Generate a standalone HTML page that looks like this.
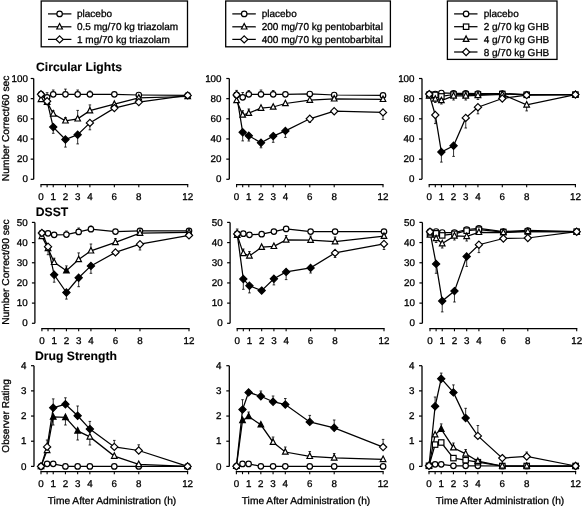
<!DOCTYPE html>
<html><head><meta charset="utf-8"><style>
html,body{margin:0;padding:0;background:#fff;}
svg{display:block;filter:grayscale(1);}
</style></head><body>
<svg width="583" height="506" viewBox="0 0 583 506" font-family='"Liberation Sans", sans-serif' font-size="10" fill="#000" stroke="#000" stroke-width="1.2" text-rendering="geometricPrecision">
<rect width="583" height="506" fill="#fff" stroke="none"/>
<g>
<path d="M33.7 78.5V179.3" stroke-width="1.3"/>
<path d="M30.7 179.3H33.7" stroke-width="1.2"/>
<text stroke-width="0.3" x="27.9" y="182.45" text-anchor="end" font-size="9.8">0</text>
<path d="M30.7 159.14H33.7" stroke-width="1.2"/>
<text stroke-width="0.3" x="27.9" y="162.29" text-anchor="end" font-size="9.8">20</text>
<path d="M30.7 138.98H33.7" stroke-width="1.2"/>
<text stroke-width="0.3" x="27.9" y="142.13" text-anchor="end" font-size="9.8">40</text>
<path d="M30.7 118.82H33.7" stroke-width="1.2"/>
<text stroke-width="0.3" x="27.9" y="121.97" text-anchor="end" font-size="9.8">60</text>
<path d="M30.7 98.66H33.7" stroke-width="1.2"/>
<text stroke-width="0.3" x="27.9" y="101.81" text-anchor="end" font-size="9.8">80</text>
<path d="M30.7 78.5H33.7" stroke-width="1.2"/>
<text stroke-width="0.3" x="27.9" y="81.65" text-anchor="end" font-size="9.8">100</text>
<path d="M40.4 184.7H188.3" stroke-width="1.3"/>
<path d="M41 184.7V187.3" stroke-width="1.1"/>
<text stroke-width="0.3" x="41" y="200.3" text-anchor="middle" font-size="9.8">0</text>
<path d="M47.11 184.7V187.3" stroke-width="1.1"/>
<path d="M53.23 184.7V187.3" stroke-width="1.1"/>
<text stroke-width="0.3" x="53.23" y="200.3" text-anchor="middle" font-size="9.8">1</text>
<path d="M65.45 184.7V187.3" stroke-width="1.1"/>
<text stroke-width="0.3" x="65.45" y="200.3" text-anchor="middle" font-size="9.8">2</text>
<path d="M77.67 184.7V187.3" stroke-width="1.1"/>
<text stroke-width="0.3" x="77.67" y="200.3" text-anchor="middle" font-size="9.8">3</text>
<path d="M89.9 184.7V187.3" stroke-width="1.1"/>
<text stroke-width="0.3" x="89.9" y="200.3" text-anchor="middle" font-size="9.8">4</text>
<path d="M114.35 184.7V187.3" stroke-width="1.1"/>
<text stroke-width="0.3" x="114.35" y="200.3" text-anchor="middle" font-size="9.8">6</text>
<path d="M138.8 184.7V187.3" stroke-width="1.1"/>
<text stroke-width="0.3" x="138.8" y="200.3" text-anchor="middle" font-size="9.8">8</text>
<path d="M187.7 184.7V187.3" stroke-width="1.1"/>
<text stroke-width="0.3" x="187.7" y="200.3" text-anchor="middle" font-size="9.8">12</text>
<path d="M41 94.3L47.11 97.3L53.23 94.3L65.45 94.3L77.67 94.3L89.9 94.3L114.35 94.3L138.8 95L187.7 95.4" fill="none" stroke-width="1.25"/>
<path d="M41 99.4L47.11 102.1L53.23 113.9L65.45 120.8L77.67 118.8L89.9 110.7L114.35 104.2L138.8 97.8L187.7 96.5" fill="none" stroke-width="1.25"/>
<path d="M41 94.3L47.11 101.2L53.23 127.1L65.45 139.5L77.67 134.7L89.9 122.9L114.35 108.1L138.8 102.1L187.7 95.4" fill="none" stroke-width="1.25"/>
<path d="M47.11 97.3V92.7M45.81 92.7H48.41" stroke-width="0.8"/>
<path d="M53.23 94.3V90M51.93 90H54.52" stroke-width="0.8"/>
<path d="M65.45 94.3V89.1M64.15 89.1H66.75" stroke-width="0.8"/>
<path d="M77.67 94.3V90M76.38 90H78.97" stroke-width="0.8"/>
<path d="M89.9 94.3V91M88.6 91H91.2" stroke-width="0.8"/>
<circle cx="41" cy="94.3" r="2.75" fill="#fff"/>
<circle cx="47.11" cy="97.3" r="2.75" fill="#fff"/>
<circle cx="53.23" cy="94.3" r="2.75" fill="#fff"/>
<circle cx="65.45" cy="94.3" r="2.75" fill="#fff"/>
<circle cx="77.67" cy="94.3" r="2.75" fill="#fff"/>
<circle cx="89.9" cy="94.3" r="2.75" fill="#fff"/>
<circle cx="114.35" cy="94.3" r="2.75" fill="#fff"/>
<circle cx="138.8" cy="95" r="2.75" fill="#fff"/>
<circle cx="187.7" cy="95.4" r="2.75" fill="#fff"/>
<path d="M53.23 113.9V110.7M51.93 110.7H54.52" stroke-width="0.8"/>
<path d="M65.45 120.8V117.5M64.15 117.5H66.75" stroke-width="0.8"/>
<path d="M77.67 118.8V110.4M76.38 110.4H78.97" stroke-width="0.8"/>
<path d="M89.9 110.7V104.9M88.6 104.9H91.2" stroke-width="0.8"/>
<path d="M41 96.1L43.8 101.6L38.2 101.6Z" fill="#fff"/>
<path d="M47.11 98.8L49.91 104.3L44.31 104.3Z" fill="#fff"/>
<path d="M53.23 110.6L56.02 116.1L50.43 116.1Z" fill="#fff"/>
<path d="M65.45 117.5L68.25 123L62.65 123Z" fill="#fff"/>
<path d="M77.67 115.5L80.47 121L74.88 121Z" fill="#fff"/>
<path d="M89.9 107.4L92.7 112.9L87.1 112.9Z" fill="#fff"/>
<path d="M114.35 100.9L117.15 106.4L111.55 106.4Z" fill="#fff"/>
<path d="M138.8 94.5L141.6 100L136 100Z" fill="#fff"/>
<path d="M187.7 93.2L190.5 98.7L184.9 98.7Z" fill="#fff"/>
<path d="M53.23 127.1V133.3M51.93 133.3H54.52" stroke-width="0.8"/>
<path d="M65.45 139.5V147.1M64.15 147.1H66.75" stroke-width="0.8"/>
<path d="M77.67 134.7V143.9M76.38 143.9H78.97" stroke-width="0.8"/>
<path d="M89.9 122.9V129.8M88.6 129.8H91.2" stroke-width="0.8"/>
<path d="M41 90.7L44.6 94.3L41 97.9L37.4 94.3Z" fill="#fff"/>
<path d="M47.11 97.6L50.71 101.2L47.11 104.8L43.51 101.2Z" fill="#fff"/>
<path d="M53.23 123.5L56.83 127.1L53.23 130.7L49.62 127.1Z" fill="#000"/>
<path d="M65.45 135.9L69.05 139.5L65.45 143.1L61.85 139.5Z" fill="#000"/>
<path d="M77.67 131.1L81.27 134.7L77.67 138.3L74.08 134.7Z" fill="#000"/>
<path d="M89.9 119.3L93.5 122.9L89.9 126.5L86.3 122.9Z" fill="#fff"/>
<path d="M114.35 104.5L117.95 108.1L114.35 111.7L110.75 108.1Z" fill="#fff"/>
<path d="M138.8 98.5L142.4 102.1L138.8 105.7L135.2 102.1Z" fill="#fff"/>
<path d="M187.7 91.8L191.3 95.4L187.7 99L184.1 95.4Z" fill="#fff"/>
<path d="M229.3 78.5V179.3" stroke-width="1.3"/>
<path d="M226.3 179.3H229.3" stroke-width="1.2"/>
<text stroke-width="0.3" x="221.5" y="182.45" text-anchor="end" font-size="9.8">0</text>
<path d="M226.3 159.14H229.3" stroke-width="1.2"/>
<text stroke-width="0.3" x="221.5" y="162.29" text-anchor="end" font-size="9.8">20</text>
<path d="M226.3 138.98H229.3" stroke-width="1.2"/>
<text stroke-width="0.3" x="221.5" y="142.13" text-anchor="end" font-size="9.8">40</text>
<path d="M226.3 118.82H229.3" stroke-width="1.2"/>
<text stroke-width="0.3" x="221.5" y="121.97" text-anchor="end" font-size="9.8">60</text>
<path d="M226.3 98.66H229.3" stroke-width="1.2"/>
<text stroke-width="0.3" x="221.5" y="101.81" text-anchor="end" font-size="9.8">80</text>
<path d="M226.3 78.5H229.3" stroke-width="1.2"/>
<text stroke-width="0.3" x="221.5" y="81.65" text-anchor="end" font-size="9.8">100</text>
<path d="M236 184.7H383.6" stroke-width="1.3"/>
<path d="M236.6 184.7V187.3" stroke-width="1.1"/>
<text stroke-width="0.3" x="236.6" y="200.3" text-anchor="middle" font-size="9.8">0</text>
<path d="M242.7 184.7V187.3" stroke-width="1.1"/>
<path d="M248.8 184.7V187.3" stroke-width="1.1"/>
<text stroke-width="0.3" x="248.8" y="200.3" text-anchor="middle" font-size="9.8">1</text>
<path d="M261 184.7V187.3" stroke-width="1.1"/>
<text stroke-width="0.3" x="261" y="200.3" text-anchor="middle" font-size="9.8">2</text>
<path d="M273.2 184.7V187.3" stroke-width="1.1"/>
<text stroke-width="0.3" x="273.2" y="200.3" text-anchor="middle" font-size="9.8">3</text>
<path d="M285.4 184.7V187.3" stroke-width="1.1"/>
<text stroke-width="0.3" x="285.4" y="200.3" text-anchor="middle" font-size="9.8">4</text>
<path d="M309.8 184.7V187.3" stroke-width="1.1"/>
<text stroke-width="0.3" x="309.8" y="200.3" text-anchor="middle" font-size="9.8">6</text>
<path d="M334.2 184.7V187.3" stroke-width="1.1"/>
<text stroke-width="0.3" x="334.2" y="200.3" text-anchor="middle" font-size="9.8">8</text>
<path d="M383 184.7V187.3" stroke-width="1.1"/>
<text stroke-width="0.3" x="383" y="200.3" text-anchor="middle" font-size="9.8">12</text>
<path d="M236.6 94.9L242.7 97.3L248.8 94.3L261 94.3L273.2 94.3L285.4 94.3L309.8 94L334.2 95L383 95.4" fill="none" stroke-width="1.25"/>
<path d="M236.6 100.5L242.7 115L248.8 113.2L261 108.1L273.2 107L285.4 103.5L309.8 100.1L334.2 98.8L383 99.3" fill="none" stroke-width="1.25"/>
<path d="M236.6 94.9L242.7 132.3L248.8 135.8L261 142.7L273.2 136.1L285.4 130.9L309.8 118.8L334.2 111.2L383 112.4" fill="none" stroke-width="1.25"/>
<path d="M242.7 97.3V92.5M241.4 92.5H244" stroke-width="0.8"/>
<path d="M248.8 94.3V90.5M247.5 90.5H250.1" stroke-width="0.8"/>
<path d="M261 94.3V90M259.7 90H262.3" stroke-width="0.8"/>
<path d="M273.2 94.3V90.5M271.9 90.5H274.5" stroke-width="0.8"/>
<circle cx="236.6" cy="94.9" r="2.75" fill="#fff"/>
<circle cx="242.7" cy="97.3" r="2.75" fill="#fff"/>
<circle cx="248.8" cy="94.3" r="2.75" fill="#fff"/>
<circle cx="261" cy="94.3" r="2.75" fill="#fff"/>
<circle cx="273.2" cy="94.3" r="2.75" fill="#fff"/>
<circle cx="285.4" cy="94.3" r="2.75" fill="#fff"/>
<circle cx="309.8" cy="94" r="2.75" fill="#fff"/>
<circle cx="334.2" cy="95" r="2.75" fill="#fff"/>
<circle cx="383" cy="95.4" r="2.75" fill="#fff"/>
<path d="M242.7 115V110.7M241.4 110.7H244" stroke-width="0.8"/>
<path d="M248.8 113.2V109M247.5 109H250.1" stroke-width="0.8"/>
<path d="M236.6 97.2L239.4 102.7L233.8 102.7Z" fill="#fff"/>
<path d="M242.7 111.7L245.5 117.2L239.9 117.2Z" fill="#fff"/>
<path d="M248.8 109.9L251.6 115.4L246 115.4Z" fill="#fff"/>
<path d="M261 104.8L263.8 110.3L258.2 110.3Z" fill="#fff"/>
<path d="M273.2 103.7L276 109.2L270.4 109.2Z" fill="#fff"/>
<path d="M285.4 100.2L288.2 105.7L282.6 105.7Z" fill="#fff"/>
<path d="M309.8 96.8L312.6 102.3L307 102.3Z" fill="#fff"/>
<path d="M334.2 95.5L337 101L331.4 101Z" fill="#fff"/>
<path d="M383 96L385.8 101.5L380.2 101.5Z" fill="#fff"/>
<path d="M236.6 94.9V90.4M235.3 90.4H237.9" stroke-width="0.8"/>
<path d="M242.7 132.3V140.9M241.4 140.9H244" stroke-width="0.8"/>
<path d="M248.8 135.8V141M247.5 141H250.1" stroke-width="0.8"/>
<path d="M261 142.7V147.8M259.7 147.8H262.3" stroke-width="0.8"/>
<path d="M273.2 136.1V142.3M271.9 142.3H274.5" stroke-width="0.8"/>
<path d="M285.4 130.9V137.4M284.1 137.4H286.7" stroke-width="0.8"/>
<path d="M309.8 118.8V122.5M308.5 122.5H311.1" stroke-width="0.8"/>
<path d="M383 112.4V119.4M381.7 119.4H384.3" stroke-width="0.8"/>
<path d="M236.6 91.3L240.2 94.9L236.6 98.5L233 94.9Z" fill="#fff"/>
<path d="M242.7 128.7L246.3 132.3L242.7 135.9L239.1 132.3Z" fill="#000"/>
<path d="M248.8 132.2L252.4 135.8L248.8 139.4L245.2 135.8Z" fill="#000"/>
<path d="M261 139.1L264.6 142.7L261 146.3L257.4 142.7Z" fill="#000"/>
<path d="M273.2 132.5L276.8 136.1L273.2 139.7L269.6 136.1Z" fill="#000"/>
<path d="M285.4 127.3L289 130.9L285.4 134.5L281.8 130.9Z" fill="#000"/>
<path d="M309.8 115.2L313.4 118.8L309.8 122.4L306.2 118.8Z" fill="#fff"/>
<path d="M334.2 107.6L337.8 111.2L334.2 114.8L330.6 111.2Z" fill="#fff"/>
<path d="M383 108.8L386.6 112.4L383 116L379.4 112.4Z" fill="#fff"/>
<path d="M422 78.5V179.3" stroke-width="1.3"/>
<path d="M419 179.3H422" stroke-width="1.2"/>
<text stroke-width="0.3" x="414.5" y="182.45" text-anchor="end" font-size="9.8">0</text>
<path d="M419 159.14H422" stroke-width="1.2"/>
<text stroke-width="0.3" x="414.5" y="162.29" text-anchor="end" font-size="9.8">20</text>
<path d="M419 138.98H422" stroke-width="1.2"/>
<text stroke-width="0.3" x="414.5" y="142.13" text-anchor="end" font-size="9.8">40</text>
<path d="M419 118.82H422" stroke-width="1.2"/>
<text stroke-width="0.3" x="414.5" y="121.97" text-anchor="end" font-size="9.8">60</text>
<path d="M419 98.66H422" stroke-width="1.2"/>
<text stroke-width="0.3" x="414.5" y="101.81" text-anchor="end" font-size="9.8">80</text>
<path d="M419 78.5H422" stroke-width="1.2"/>
<text stroke-width="0.3" x="414.5" y="81.65" text-anchor="end" font-size="9.8">100</text>
<path d="M428.6 184.7H576" stroke-width="1.3"/>
<path d="M429.2 184.7V187.3" stroke-width="1.1"/>
<text stroke-width="0.3" x="429.2" y="200.3" text-anchor="middle" font-size="9.8">0</text>
<path d="M435.29 184.7V187.3" stroke-width="1.1"/>
<path d="M441.38 184.7V187.3" stroke-width="1.1"/>
<text stroke-width="0.3" x="441.38" y="200.3" text-anchor="middle" font-size="9.8">1</text>
<path d="M453.57 184.7V187.3" stroke-width="1.1"/>
<text stroke-width="0.3" x="453.57" y="200.3" text-anchor="middle" font-size="9.8">2</text>
<path d="M465.75 184.7V187.3" stroke-width="1.1"/>
<text stroke-width="0.3" x="465.75" y="200.3" text-anchor="middle" font-size="9.8">3</text>
<path d="M477.93 184.7V187.3" stroke-width="1.1"/>
<text stroke-width="0.3" x="477.93" y="200.3" text-anchor="middle" font-size="9.8">4</text>
<path d="M502.3 184.7V187.3" stroke-width="1.1"/>
<text stroke-width="0.3" x="502.3" y="200.3" text-anchor="middle" font-size="9.8">6</text>
<path d="M526.67 184.7V187.3" stroke-width="1.1"/>
<text stroke-width="0.3" x="526.67" y="200.3" text-anchor="middle" font-size="9.8">8</text>
<path d="M575.4 184.7V187.3" stroke-width="1.1"/>
<text stroke-width="0.3" x="575.4" y="200.3" text-anchor="middle" font-size="9.8">12</text>
<path d="M429.2 94.1L435.29 94L441.38 93L453.57 93.3L465.75 93.3L477.93 93.5L502.3 93.5L526.67 94.5L575.4 94.6" fill="none" stroke-width="1.25"/>
<path d="M429.2 95L435.29 94.9L441.38 96.4L453.57 94.5L465.75 94.5L477.93 94.5L502.3 94L526.67 94.8L575.4 94.6" fill="none" stroke-width="1.25"/>
<path d="M429.2 96L435.29 99L441.38 100.5L453.57 95.9L465.75 95.9L477.93 95.4L502.3 94.5L526.67 104.9L575.4 94.6" fill="none" stroke-width="1.25"/>
<path d="M429.2 94.1L435.29 115L441.38 152L453.57 145.8L465.75 117.9L477.93 107.2L502.3 98.5L526.67 95.1L575.4 94.6" fill="none" stroke-width="1.25"/>
<circle cx="429.2" cy="94.1" r="2.75" fill="#fff"/>
<circle cx="435.29" cy="94" r="2.75" fill="#fff"/>
<circle cx="441.38" cy="93" r="2.75" fill="#fff"/>
<circle cx="453.57" cy="93.3" r="2.75" fill="#fff"/>
<circle cx="465.75" cy="93.3" r="2.75" fill="#fff"/>
<circle cx="477.93" cy="93.5" r="2.75" fill="#fff"/>
<circle cx="502.3" cy="93.5" r="2.75" fill="#fff"/>
<circle cx="526.67" cy="94.5" r="2.75" fill="#fff"/>
<circle cx="575.4" cy="94.6" r="2.75" fill="#fff"/>
<rect x="426.5" y="92.3" width="5.4" height="5.4" fill="#fff"/>
<rect x="432.59" y="92.2" width="5.4" height="5.4" fill="#fff"/>
<rect x="438.68" y="93.7" width="5.4" height="5.4" fill="#fff"/>
<rect x="450.87" y="91.8" width="5.4" height="5.4" fill="#fff"/>
<rect x="463.05" y="91.8" width="5.4" height="5.4" fill="#fff"/>
<rect x="475.23" y="91.8" width="5.4" height="5.4" fill="#fff"/>
<rect x="499.6" y="91.3" width="5.4" height="5.4" fill="#fff"/>
<rect x="523.97" y="92.1" width="5.4" height="5.4" fill="#fff"/>
<rect x="572.7" y="91.9" width="5.4" height="5.4" fill="#fff"/>
<path d="M435.29 99V102.5M433.99 102.5H436.59" stroke-width="0.8"/>
<path d="M441.38 100.5V104M440.08 104H442.68" stroke-width="0.8"/>
<path d="M453.57 95.9V100M452.27 100H454.87" stroke-width="0.8"/>
<path d="M465.75 95.9V100M464.45 100H467.05" stroke-width="0.8"/>
<path d="M477.93 95.4V99.5M476.63 99.5H479.23" stroke-width="0.8"/>
<path d="M526.67 104.9V110.9M525.37 110.9H527.97" stroke-width="0.8"/>
<path d="M429.2 92.7L432 98.2L426.4 98.2Z" fill="#fff"/>
<path d="M435.29 95.7L438.09 101.2L432.49 101.2Z" fill="#fff"/>
<path d="M441.38 97.2L444.18 102.7L438.58 102.7Z" fill="#fff"/>
<path d="M453.57 92.6L456.37 98.1L450.77 98.1Z" fill="#fff"/>
<path d="M465.75 92.6L468.55 98.1L462.95 98.1Z" fill="#fff"/>
<path d="M477.93 92.1L480.73 97.6L475.13 97.6Z" fill="#fff"/>
<path d="M502.3 91.2L505.1 96.7L499.5 96.7Z" fill="#fff"/>
<path d="M526.67 101.6L529.47 107.1L523.87 107.1Z" fill="#fff"/>
<path d="M575.4 91.3L578.2 96.8L572.6 96.8Z" fill="#fff"/>
<path d="M435.29 115V123.6M433.99 123.6H436.59" stroke-width="0.8"/>
<path d="M441.38 152V162.1M440.08 162.1H442.68" stroke-width="0.8"/>
<path d="M453.57 145.8V156.4M452.27 156.4H454.87" stroke-width="0.8"/>
<path d="M465.75 117.9V128M464.45 128H467.05" stroke-width="0.8"/>
<path d="M477.93 107.2V113.8M476.63 113.8H479.23" stroke-width="0.8"/>
<path d="M429.2 90.5L432.8 94.1L429.2 97.7L425.6 94.1Z" fill="#fff"/>
<path d="M435.29 111.4L438.89 115L435.29 118.6L431.69 115Z" fill="#fff"/>
<path d="M441.38 148.4L444.98 152L441.38 155.6L437.78 152Z" fill="#000"/>
<path d="M453.57 142.2L457.17 145.8L453.57 149.4L449.97 145.8Z" fill="#000"/>
<path d="M465.75 114.3L469.35 117.9L465.75 121.5L462.15 117.9Z" fill="#fff"/>
<path d="M477.93 103.6L481.53 107.2L477.93 110.8L474.33 107.2Z" fill="#fff"/>
<path d="M502.3 94.9L505.9 98.5L502.3 102.1L498.7 98.5Z" fill="#fff"/>
<path d="M526.67 91.5L530.27 95.1L526.67 98.7L523.07 95.1Z" fill="#fff"/>
<path d="M575.4 91L579 94.6L575.4 98.2L571.8 94.6Z" fill="#fff"/>
<path d="M34.9 222.4V323.3" stroke-width="1.3"/>
<path d="M31.9 323.3H34.9" stroke-width="1.2"/>
<text stroke-width="0.3" x="27.6" y="326.45" text-anchor="end" font-size="9.8">0</text>
<path d="M31.9 303.12H34.9" stroke-width="1.2"/>
<text stroke-width="0.3" x="27.6" y="306.27" text-anchor="end" font-size="9.8">10</text>
<path d="M31.9 282.94H34.9" stroke-width="1.2"/>
<text stroke-width="0.3" x="27.6" y="286.09" text-anchor="end" font-size="9.8">20</text>
<path d="M31.9 262.76H34.9" stroke-width="1.2"/>
<text stroke-width="0.3" x="27.6" y="265.91" text-anchor="end" font-size="9.8">30</text>
<path d="M31.9 242.58H34.9" stroke-width="1.2"/>
<text stroke-width="0.3" x="27.6" y="245.73" text-anchor="end" font-size="9.8">40</text>
<path d="M31.9 222.4H34.9" stroke-width="1.2"/>
<text stroke-width="0.3" x="27.6" y="225.55" text-anchor="end" font-size="9.8">50</text>
<path d="M41.3 328.6H189.6" stroke-width="1.3"/>
<path d="M41.9 328.6V331.2" stroke-width="1.1"/>
<text stroke-width="0.3" x="41.9" y="344.2" text-anchor="middle" font-size="9.8">0</text>
<path d="M48.03 328.6V331.2" stroke-width="1.1"/>
<path d="M54.16 328.6V331.2" stroke-width="1.1"/>
<text stroke-width="0.3" x="54.16" y="344.2" text-anchor="middle" font-size="9.8">1</text>
<path d="M66.42 328.6V331.2" stroke-width="1.1"/>
<text stroke-width="0.3" x="66.42" y="344.2" text-anchor="middle" font-size="9.8">2</text>
<path d="M78.67 328.6V331.2" stroke-width="1.1"/>
<text stroke-width="0.3" x="78.67" y="344.2" text-anchor="middle" font-size="9.8">3</text>
<path d="M90.93 328.6V331.2" stroke-width="1.1"/>
<text stroke-width="0.3" x="90.93" y="344.2" text-anchor="middle" font-size="9.8">4</text>
<path d="M115.45 328.6V331.2" stroke-width="1.1"/>
<text stroke-width="0.3" x="115.45" y="344.2" text-anchor="middle" font-size="9.8">6</text>
<path d="M139.97 328.6V331.2" stroke-width="1.1"/>
<text stroke-width="0.3" x="139.97" y="344.2" text-anchor="middle" font-size="9.8">8</text>
<path d="M189 328.6V331.2" stroke-width="1.1"/>
<text stroke-width="0.3" x="189" y="344.2" text-anchor="middle" font-size="9.8">12</text>
<path d="M41.9 233L48.03 233.3L54.16 234.8L66.42 234.6L78.67 231.9L90.93 229.2L115.45 231.6L139.97 230.8L189 230.8" fill="none" stroke-width="1.25"/>
<path d="M41.9 236.4L48.03 248.4L54.16 262.3L66.42 270.7L78.67 259.5L90.93 250.8L115.45 242.4L139.97 233.1L189 232.3" fill="none" stroke-width="1.25"/>
<path d="M41.9 233L48.03 246.7L54.16 274.8L66.42 292.5L78.67 277.8L90.93 265.9L115.45 252.4L139.97 244.2L189 235.4" fill="none" stroke-width="1.25"/>
<path d="M66.42 234.6V231M65.12 231H67.72" stroke-width="0.8"/>
<path d="M78.67 231.9V228M77.38 228H79.97" stroke-width="0.8"/>
<path d="M90.93 229.2V226M89.63 226H92.23" stroke-width="0.8"/>
<circle cx="41.9" cy="233" r="2.75" fill="#fff"/>
<circle cx="48.03" cy="233.3" r="2.75" fill="#fff"/>
<circle cx="54.16" cy="234.8" r="2.75" fill="#fff"/>
<circle cx="66.42" cy="234.6" r="2.75" fill="#fff"/>
<circle cx="78.67" cy="231.9" r="2.75" fill="#fff"/>
<circle cx="90.93" cy="229.2" r="2.75" fill="#fff"/>
<circle cx="115.45" cy="231.6" r="2.75" fill="#fff"/>
<circle cx="139.97" cy="230.8" r="2.75" fill="#fff"/>
<circle cx="189" cy="230.8" r="2.75" fill="#fff"/>
<path d="M54.16 262.3V258.2M52.86 258.2H55.46" stroke-width="0.8"/>
<path d="M66.42 270.7V265.9M65.12 265.9H67.72" stroke-width="0.8"/>
<path d="M78.67 259.5V252.9M77.38 252.9H79.97" stroke-width="0.8"/>
<path d="M90.93 250.8V244M89.63 244H92.23" stroke-width="0.8"/>
<path d="M115.45 242.4V238.5M114.15 238.5H116.75" stroke-width="0.8"/>
<path d="M41.9 233.1L44.7 238.6L39.1 238.6Z" fill="#fff"/>
<path d="M48.03 245.1L50.83 250.6L45.23 250.6Z" fill="#fff"/>
<path d="M54.16 259L56.96 264.5L51.36 264.5Z" fill="#fff"/>
<path d="M66.42 267.4L69.22 272.9L63.62 272.9Z" fill="#000"/>
<path d="M78.67 256.2L81.47 261.7L75.88 261.7Z" fill="#fff"/>
<path d="M90.93 247.5L93.73 253L88.13 253Z" fill="#fff"/>
<path d="M115.45 239.1L118.25 244.6L112.65 244.6Z" fill="#fff"/>
<path d="M139.97 229.8L142.77 235.3L137.17 235.3Z" fill="#fff"/>
<path d="M189 229L191.8 234.5L186.2 234.5Z" fill="#fff"/>
<path d="M48.03 246.7V254.7M46.73 254.7H49.33" stroke-width="0.8"/>
<path d="M54.16 274.8V282.2M52.86 282.2H55.46" stroke-width="0.8"/>
<path d="M66.42 292.5V299.1M65.12 299.1H67.72" stroke-width="0.8"/>
<path d="M78.67 277.8V286.7M77.38 286.7H79.97" stroke-width="0.8"/>
<path d="M90.93 265.9V273.3M89.63 273.3H92.23" stroke-width="0.8"/>
<path d="M139.97 244.2V250M138.67 250H141.27" stroke-width="0.8"/>
<path d="M41.9 229.4L45.5 233L41.9 236.6L38.3 233Z" fill="#fff"/>
<path d="M48.03 243.1L51.63 246.7L48.03 250.3L44.43 246.7Z" fill="#fff"/>
<path d="M54.16 271.2L57.76 274.8L54.16 278.4L50.56 274.8Z" fill="#000"/>
<path d="M66.42 288.9L70.02 292.5L66.42 296.1L62.82 292.5Z" fill="#000"/>
<path d="M78.67 274.2L82.27 277.8L78.67 281.4L75.08 277.8Z" fill="#000"/>
<path d="M90.93 262.3L94.53 265.9L90.93 269.5L87.33 265.9Z" fill="#000"/>
<path d="M115.45 248.8L119.05 252.4L115.45 256L111.85 252.4Z" fill="#fff"/>
<path d="M139.97 240.6L143.57 244.2L139.97 247.8L136.37 244.2Z" fill="#fff"/>
<path d="M189 231.8L192.6 235.4L189 239L185.4 235.4Z" fill="#fff"/>
<path d="M230.1 222.4V323.3" stroke-width="1.3"/>
<path d="M227.1 323.3H230.1" stroke-width="1.2"/>
<text stroke-width="0.3" x="222.6" y="326.45" text-anchor="end" font-size="9.8">0</text>
<path d="M227.1 303.12H230.1" stroke-width="1.2"/>
<text stroke-width="0.3" x="222.6" y="306.27" text-anchor="end" font-size="9.8">10</text>
<path d="M227.1 282.94H230.1" stroke-width="1.2"/>
<text stroke-width="0.3" x="222.6" y="286.09" text-anchor="end" font-size="9.8">20</text>
<path d="M227.1 262.76H230.1" stroke-width="1.2"/>
<text stroke-width="0.3" x="222.6" y="265.91" text-anchor="end" font-size="9.8">30</text>
<path d="M227.1 242.58H230.1" stroke-width="1.2"/>
<text stroke-width="0.3" x="222.6" y="245.73" text-anchor="end" font-size="9.8">40</text>
<path d="M227.1 222.4H230.1" stroke-width="1.2"/>
<text stroke-width="0.3" x="222.6" y="225.55" text-anchor="end" font-size="9.8">50</text>
<path d="M236.6 328.6H384.6" stroke-width="1.3"/>
<path d="M237.2 328.6V331.2" stroke-width="1.1"/>
<text stroke-width="0.3" x="237.2" y="344.2" text-anchor="middle" font-size="9.8">0</text>
<path d="M243.32 328.6V331.2" stroke-width="1.1"/>
<path d="M249.43 328.6V331.2" stroke-width="1.1"/>
<text stroke-width="0.3" x="249.43" y="344.2" text-anchor="middle" font-size="9.8">1</text>
<path d="M261.67 328.6V331.2" stroke-width="1.1"/>
<text stroke-width="0.3" x="261.67" y="344.2" text-anchor="middle" font-size="9.8">2</text>
<path d="M273.9 328.6V331.2" stroke-width="1.1"/>
<text stroke-width="0.3" x="273.9" y="344.2" text-anchor="middle" font-size="9.8">3</text>
<path d="M286.13 328.6V331.2" stroke-width="1.1"/>
<text stroke-width="0.3" x="286.13" y="344.2" text-anchor="middle" font-size="9.8">4</text>
<path d="M310.6 328.6V331.2" stroke-width="1.1"/>
<text stroke-width="0.3" x="310.6" y="344.2" text-anchor="middle" font-size="9.8">6</text>
<path d="M335.07 328.6V331.2" stroke-width="1.1"/>
<text stroke-width="0.3" x="335.07" y="344.2" text-anchor="middle" font-size="9.8">8</text>
<path d="M384 328.6V331.2" stroke-width="1.1"/>
<text stroke-width="0.3" x="384" y="344.2" text-anchor="middle" font-size="9.8">12</text>
<path d="M237.2 233.9L243.32 233.7L249.43 234.8L261.67 234.2L273.9 231.6L286.13 228.9L310.6 231.6L335.07 231.6L384 231.6" fill="none" stroke-width="1.25"/>
<path d="M237.2 235.1L243.32 253.4L249.43 255.9L261.67 247.2L273.9 246.3L286.13 239.9L310.6 240.1L335.07 241.6L384 236.2" fill="none" stroke-width="1.25"/>
<path d="M237.2 233.9L243.32 279L249.43 285.8L261.67 290.6L273.9 278.7L286.13 271.9L310.6 267.9L335.07 252.9L384 243.9" fill="none" stroke-width="1.25"/>
<circle cx="237.2" cy="233.9" r="2.75" fill="#fff"/>
<circle cx="243.32" cy="233.7" r="2.75" fill="#fff"/>
<circle cx="249.43" cy="234.8" r="2.75" fill="#fff"/>
<circle cx="261.67" cy="234.2" r="2.75" fill="#fff"/>
<circle cx="273.9" cy="231.6" r="2.75" fill="#fff"/>
<circle cx="286.13" cy="228.9" r="2.75" fill="#fff"/>
<circle cx="310.6" cy="231.6" r="2.75" fill="#fff"/>
<circle cx="335.07" cy="231.6" r="2.75" fill="#fff"/>
<circle cx="384" cy="231.6" r="2.75" fill="#fff"/>
<path d="M243.32 253.4V249M242.02 249H244.62" stroke-width="0.8"/>
<path d="M249.43 255.9V251.5M248.13 251.5H250.73" stroke-width="0.8"/>
<path d="M286.13 239.9V235.5M284.83 235.5H287.43" stroke-width="0.8"/>
<path d="M310.6 240.1V236M309.3 236H311.9" stroke-width="0.8"/>
<path d="M335.07 241.6V237M333.77 237H336.37" stroke-width="0.8"/>
<path d="M237.2 231.8L240 237.3L234.4 237.3Z" fill="#fff"/>
<path d="M243.32 250.1L246.12 255.6L240.52 255.6Z" fill="#fff"/>
<path d="M249.43 252.6L252.23 258.1L246.63 258.1Z" fill="#fff"/>
<path d="M261.67 243.9L264.47 249.4L258.87 249.4Z" fill="#fff"/>
<path d="M273.9 243L276.7 248.5L271.1 248.5Z" fill="#fff"/>
<path d="M286.13 236.6L288.93 242.1L283.33 242.1Z" fill="#fff"/>
<path d="M310.6 236.8L313.4 242.3L307.8 242.3Z" fill="#fff"/>
<path d="M335.07 238.3L337.87 243.8L332.27 243.8Z" fill="#fff"/>
<path d="M384 232.9L386.8 238.4L381.2 238.4Z" fill="#fff"/>
<path d="M237.2 233.9V229M235.9 229H238.5" stroke-width="0.8"/>
<path d="M243.32 279V289.3M242.02 289.3H244.62" stroke-width="0.8"/>
<path d="M249.43 285.8V292.9M248.13 292.9H250.73" stroke-width="0.8"/>
<path d="M273.9 278.7V284.9M272.6 284.9H275.2" stroke-width="0.8"/>
<path d="M286.13 271.9V279.6M284.83 279.6H287.43" stroke-width="0.8"/>
<path d="M310.6 267.9V273M309.3 273H311.9" stroke-width="0.8"/>
<path d="M335.07 252.9V257.5M333.77 257.5H336.37" stroke-width="0.8"/>
<path d="M384 243.9V249.5M382.7 249.5H385.3" stroke-width="0.8"/>
<path d="M237.2 230.3L240.8 233.9L237.2 237.5L233.6 233.9Z" fill="#fff"/>
<path d="M243.32 275.4L246.92 279L243.32 282.6L239.72 279Z" fill="#000"/>
<path d="M249.43 282.2L253.03 285.8L249.43 289.4L245.83 285.8Z" fill="#000"/>
<path d="M261.67 287L265.27 290.6L261.67 294.2L258.07 290.6Z" fill="#000"/>
<path d="M273.9 275.1L277.5 278.7L273.9 282.3L270.3 278.7Z" fill="#000"/>
<path d="M286.13 268.3L289.73 271.9L286.13 275.5L282.53 271.9Z" fill="#000"/>
<path d="M310.6 264.3L314.2 267.9L310.6 271.5L307 267.9Z" fill="#000"/>
<path d="M335.07 249.3L338.67 252.9L335.07 256.5L331.47 252.9Z" fill="#fff"/>
<path d="M384 240.3L387.6 243.9L384 247.5L380.4 243.9Z" fill="#fff"/>
<path d="M422.4 222.4V323.3" stroke-width="1.3"/>
<path d="M419.4 323.3H422.4" stroke-width="1.2"/>
<text stroke-width="0.3" x="415" y="326.45" text-anchor="end" font-size="9.8">0</text>
<path d="M419.4 303.12H422.4" stroke-width="1.2"/>
<text stroke-width="0.3" x="415" y="306.27" text-anchor="end" font-size="9.8">10</text>
<path d="M419.4 282.94H422.4" stroke-width="1.2"/>
<text stroke-width="0.3" x="415" y="286.09" text-anchor="end" font-size="9.8">20</text>
<path d="M419.4 262.76H422.4" stroke-width="1.2"/>
<text stroke-width="0.3" x="415" y="265.91" text-anchor="end" font-size="9.8">30</text>
<path d="M419.4 242.58H422.4" stroke-width="1.2"/>
<text stroke-width="0.3" x="415" y="245.73" text-anchor="end" font-size="9.8">40</text>
<path d="M419.4 222.4H422.4" stroke-width="1.2"/>
<text stroke-width="0.3" x="415" y="225.55" text-anchor="end" font-size="9.8">50</text>
<path d="M429.4 328.6H577.3" stroke-width="1.3"/>
<path d="M430 328.6V331.2" stroke-width="1.1"/>
<text stroke-width="0.3" x="430" y="344.2" text-anchor="middle" font-size="9.8">0</text>
<path d="M436.11 328.6V331.2" stroke-width="1.1"/>
<path d="M442.23 328.6V331.2" stroke-width="1.1"/>
<text stroke-width="0.3" x="442.23" y="344.2" text-anchor="middle" font-size="9.8">1</text>
<path d="M454.45 328.6V331.2" stroke-width="1.1"/>
<text stroke-width="0.3" x="454.45" y="344.2" text-anchor="middle" font-size="9.8">2</text>
<path d="M466.68 328.6V331.2" stroke-width="1.1"/>
<text stroke-width="0.3" x="466.68" y="344.2" text-anchor="middle" font-size="9.8">3</text>
<path d="M478.9 328.6V331.2" stroke-width="1.1"/>
<text stroke-width="0.3" x="478.9" y="344.2" text-anchor="middle" font-size="9.8">4</text>
<path d="M503.35 328.6V331.2" stroke-width="1.1"/>
<text stroke-width="0.3" x="503.35" y="344.2" text-anchor="middle" font-size="9.8">6</text>
<path d="M527.8 328.6V331.2" stroke-width="1.1"/>
<text stroke-width="0.3" x="527.8" y="344.2" text-anchor="middle" font-size="9.8">8</text>
<path d="M576.7 328.6V331.2" stroke-width="1.1"/>
<text stroke-width="0.3" x="576.7" y="344.2" text-anchor="middle" font-size="9.8">12</text>
<path d="M430 231.5L436.11 231.5L442.23 232.5L454.45 232.5L466.68 229.5L478.9 228.3L503.35 231.5L527.8 230.5L576.7 231.5" fill="none" stroke-width="1.25"/>
<path d="M430 233.5L436.11 233.3L442.23 235.4L454.45 233.8L466.68 230.7L478.9 229.7L503.35 232L527.8 231.5L576.7 231.7" fill="none" stroke-width="1.25"/>
<path d="M430 235L436.11 238.5L442.23 243.6L454.45 235.9L466.68 236.4L478.9 232.3L503.35 232.5L527.8 231.5L576.7 232" fill="none" stroke-width="1.25"/>
<path d="M430 231.8L436.11 263.9L442.23 301L454.45 291.1L466.68 256.5L478.9 244.7L503.35 238.5L527.8 238L576.7 231.7" fill="none" stroke-width="1.25"/>
<circle cx="430" cy="231.5" r="2.75" fill="#fff"/>
<circle cx="436.11" cy="231.5" r="2.75" fill="#fff"/>
<circle cx="442.23" cy="232.5" r="2.75" fill="#fff"/>
<circle cx="454.45" cy="232.5" r="2.75" fill="#fff"/>
<circle cx="466.68" cy="229.5" r="2.75" fill="#fff"/>
<circle cx="478.9" cy="228.3" r="2.75" fill="#fff"/>
<circle cx="503.35" cy="231.5" r="2.75" fill="#fff"/>
<circle cx="527.8" cy="230.5" r="2.75" fill="#fff"/>
<circle cx="576.7" cy="231.5" r="2.75" fill="#fff"/>
<rect x="427.3" y="230.8" width="5.4" height="5.4" fill="#fff"/>
<rect x="433.41" y="230.6" width="5.4" height="5.4" fill="#fff"/>
<rect x="439.53" y="232.7" width="5.4" height="5.4" fill="#fff"/>
<rect x="451.75" y="231.1" width="5.4" height="5.4" fill="#fff"/>
<rect x="463.98" y="228" width="5.4" height="5.4" fill="#fff"/>
<rect x="476.2" y="227" width="5.4" height="5.4" fill="#fff"/>
<rect x="500.65" y="229.3" width="5.4" height="5.4" fill="#fff"/>
<rect x="525.1" y="228.8" width="5.4" height="5.4" fill="#fff"/>
<rect x="574" y="229" width="5.4" height="5.4" fill="#fff"/>
<path d="M436.11 238.5V242.5M434.81 242.5H437.41" stroke-width="0.8"/>
<path d="M442.23 243.6V248M440.93 248H443.53" stroke-width="0.8"/>
<path d="M454.45 235.9V240M453.15 240H455.75" stroke-width="0.8"/>
<path d="M466.68 236.4V241M465.38 241H467.98" stroke-width="0.8"/>
<path d="M430 231.7L432.8 237.2L427.2 237.2Z" fill="#fff"/>
<path d="M436.11 235.2L438.91 240.7L433.31 240.7Z" fill="#fff"/>
<path d="M442.23 240.3L445.03 245.8L439.43 245.8Z" fill="#fff"/>
<path d="M454.45 232.6L457.25 238.1L451.65 238.1Z" fill="#fff"/>
<path d="M466.68 233.1L469.48 238.6L463.88 238.6Z" fill="#fff"/>
<path d="M478.9 229L481.7 234.5L476.1 234.5Z" fill="#fff"/>
<path d="M503.35 229.2L506.15 234.7L500.55 234.7Z" fill="#fff"/>
<path d="M527.8 228.2L530.6 233.7L525 233.7Z" fill="#fff"/>
<path d="M576.7 228.7L579.5 234.2L573.9 234.2Z" fill="#fff"/>
<path d="M436.11 263.9V273.3M434.81 273.3H437.41" stroke-width="0.8"/>
<path d="M442.23 301V311.9M440.93 311.9H443.53" stroke-width="0.8"/>
<path d="M454.45 291.1V302M453.15 302H455.75" stroke-width="0.8"/>
<path d="M466.68 256.5V266.4M465.38 266.4H467.98" stroke-width="0.8"/>
<path d="M478.9 244.7V252.6M477.6 252.6H480.2" stroke-width="0.8"/>
<path d="M430 228.2L433.6 231.8L430 235.4L426.4 231.8Z" fill="#fff"/>
<path d="M436.11 260.3L439.71 263.9L436.11 267.5L432.51 263.9Z" fill="#000"/>
<path d="M442.23 297.4L445.83 301L442.23 304.6L438.62 301Z" fill="#000"/>
<path d="M454.45 287.5L458.05 291.1L454.45 294.7L450.85 291.1Z" fill="#000"/>
<path d="M466.68 252.9L470.28 256.5L466.68 260.1L463.07 256.5Z" fill="#000"/>
<path d="M478.9 241.1L482.5 244.7L478.9 248.3L475.3 244.7Z" fill="#fff"/>
<path d="M503.35 234.9L506.95 238.5L503.35 242.1L499.75 238.5Z" fill="#fff"/>
<path d="M527.8 234.4L531.4 238L527.8 241.6L524.2 238Z" fill="#fff"/>
<path d="M576.7 228.1L580.3 231.7L576.7 235.3L573.1 231.7Z" fill="#fff"/>
<path d="M34 365.7V466.4" stroke-width="1.3"/>
<path d="M31 466.4H34" stroke-width="1.2"/>
<text stroke-width="0.3" x="26.5" y="469.55" text-anchor="end" font-size="9.8">0</text>
<path d="M31 441.22H34" stroke-width="1.2"/>
<text stroke-width="0.3" x="26.5" y="444.37" text-anchor="end" font-size="9.8">1</text>
<path d="M31 416.05H34" stroke-width="1.2"/>
<text stroke-width="0.3" x="26.5" y="419.2" text-anchor="end" font-size="9.8">2</text>
<path d="M31 390.88H34" stroke-width="1.2"/>
<text stroke-width="0.3" x="26.5" y="394.02" text-anchor="end" font-size="9.8">3</text>
<path d="M31 365.7H34" stroke-width="1.2"/>
<text stroke-width="0.3" x="26.5" y="368.85" text-anchor="end" font-size="9.8">4</text>
<path d="M40.4 471.6H188.2" stroke-width="1.3"/>
<path d="M41 471.6V474.2" stroke-width="1.1"/>
<text stroke-width="0.3" x="41" y="487.2" text-anchor="middle" font-size="9.8">0</text>
<path d="M47.11 471.6V474.2" stroke-width="1.1"/>
<path d="M53.22 471.6V474.2" stroke-width="1.1"/>
<text stroke-width="0.3" x="53.22" y="487.2" text-anchor="middle" font-size="9.8">1</text>
<path d="M65.43 471.6V474.2" stroke-width="1.1"/>
<text stroke-width="0.3" x="65.43" y="487.2" text-anchor="middle" font-size="9.8">2</text>
<path d="M77.65 471.6V474.2" stroke-width="1.1"/>
<text stroke-width="0.3" x="77.65" y="487.2" text-anchor="middle" font-size="9.8">3</text>
<path d="M89.87 471.6V474.2" stroke-width="1.1"/>
<text stroke-width="0.3" x="89.87" y="487.2" text-anchor="middle" font-size="9.8">4</text>
<path d="M114.3 471.6V474.2" stroke-width="1.1"/>
<text stroke-width="0.3" x="114.3" y="487.2" text-anchor="middle" font-size="9.8">6</text>
<path d="M138.73 471.6V474.2" stroke-width="1.1"/>
<text stroke-width="0.3" x="138.73" y="487.2" text-anchor="middle" font-size="9.8">8</text>
<path d="M187.6 471.6V474.2" stroke-width="1.1"/>
<text stroke-width="0.3" x="187.6" y="487.2" text-anchor="middle" font-size="9.8">12</text>
<path d="M41 466.4L47.11 463.8L53.22 463.8L65.43 466.4L77.65 466.4L89.87 466.4L114.3 466.4L138.73 466.4L187.6 466.4" fill="none" stroke-width="1.25"/>
<path d="M41 466.4L47.11 450.4L53.22 417L65.43 417.4L77.65 430.9L89.87 436.9L114.3 456.1L138.73 464.4L187.6 466.4" fill="none" stroke-width="1.25"/>
<path d="M41 466.4L47.11 446.9L53.22 407.8L65.43 404.2L77.65 415.8L89.87 429.1L114.3 446.9L138.73 450.5L187.6 466.4" fill="none" stroke-width="1.25"/>
<circle cx="41" cy="466.4" r="2.75" fill="#fff"/>
<circle cx="47.11" cy="463.8" r="2.75" fill="#fff"/>
<circle cx="53.22" cy="463.8" r="2.75" fill="#fff"/>
<circle cx="65.43" cy="466.4" r="2.75" fill="#fff"/>
<circle cx="77.65" cy="466.4" r="2.75" fill="#fff"/>
<circle cx="89.87" cy="466.4" r="2.75" fill="#fff"/>
<circle cx="114.3" cy="466.4" r="2.75" fill="#fff"/>
<circle cx="138.73" cy="466.4" r="2.75" fill="#fff"/>
<circle cx="187.6" cy="466.4" r="2.75" fill="#fff"/>
<path d="M53.22 417V425M51.92 425H54.52" stroke-width="0.8"/>
<path d="M65.43 417.4V425M64.13 425H66.73" stroke-width="0.8"/>
<path d="M77.65 430.9V440M76.35 440H78.95" stroke-width="0.8"/>
<path d="M89.87 436.9V445M88.57 445H91.17" stroke-width="0.8"/>
<path d="M41 463.1L43.8 468.6L38.2 468.6Z" fill="#fff"/>
<path d="M47.11 447.1L49.91 452.6L44.31 452.6Z" fill="#fff"/>
<path d="M53.22 413.7L56.02 419.2L50.42 419.2Z" fill="#000"/>
<path d="M65.43 414.1L68.23 419.6L62.63 419.6Z" fill="#000"/>
<path d="M77.65 427.6L80.45 433.1L74.85 433.1Z" fill="#000"/>
<path d="M89.87 433.6L92.67 439.1L87.07 439.1Z" fill="#fff"/>
<path d="M114.3 452.8L117.1 458.3L111.5 458.3Z" fill="#fff"/>
<path d="M138.73 461.1L141.53 466.6L135.93 466.6Z" fill="#fff"/>
<path d="M187.6 463.1L190.4 468.6L184.8 468.6Z" fill="#fff"/>
<path d="M47.11 446.9V440M45.81 440H48.41" stroke-width="0.8"/>
<path d="M53.22 407.8V398.9M51.92 398.9H54.52" stroke-width="0.8"/>
<path d="M65.43 404.2V397.8M64.13 397.8H66.73" stroke-width="0.8"/>
<path d="M77.65 415.8V406M76.35 406H78.95" stroke-width="0.8"/>
<path d="M89.87 429.1V421.4M88.57 421.4H91.17" stroke-width="0.8"/>
<path d="M114.3 446.9V440.4M113 440.4H115.6" stroke-width="0.8"/>
<path d="M138.73 450.5V444.8M137.43 444.8H140.03" stroke-width="0.8"/>
<path d="M41 462.8L44.6 466.4L41 470L37.4 466.4Z" fill="#fff"/>
<path d="M47.11 443.3L50.71 446.9L47.11 450.5L43.51 446.9Z" fill="#fff"/>
<path d="M53.22 404.2L56.82 407.8L53.22 411.4L49.62 407.8Z" fill="#000"/>
<path d="M65.43 400.6L69.03 404.2L65.43 407.8L61.83 404.2Z" fill="#000"/>
<path d="M77.65 412.2L81.25 415.8L77.65 419.4L74.05 415.8Z" fill="#000"/>
<path d="M89.87 425.5L93.47 429.1L89.87 432.7L86.27 429.1Z" fill="#000"/>
<path d="M114.3 443.3L117.9 446.9L114.3 450.5L110.7 446.9Z" fill="#fff"/>
<path d="M138.73 446.9L142.33 450.5L138.73 454.1L135.13 450.5Z" fill="#fff"/>
<path d="M187.6 462.8L191.2 466.4L187.6 470L184 466.4Z" fill="#fff"/>
<path d="M229.3 365.7V466.4" stroke-width="1.3"/>
<path d="M226.3 466.4H229.3" stroke-width="1.2"/>
<text stroke-width="0.3" x="221.5" y="469.55" text-anchor="end" font-size="9.8">0</text>
<path d="M226.3 441.22H229.3" stroke-width="1.2"/>
<text stroke-width="0.3" x="221.5" y="444.37" text-anchor="end" font-size="9.8">1</text>
<path d="M226.3 416.05H229.3" stroke-width="1.2"/>
<text stroke-width="0.3" x="221.5" y="419.2" text-anchor="end" font-size="9.8">2</text>
<path d="M226.3 390.88H229.3" stroke-width="1.2"/>
<text stroke-width="0.3" x="221.5" y="394.02" text-anchor="end" font-size="9.8">3</text>
<path d="M226.3 365.7H229.3" stroke-width="1.2"/>
<text stroke-width="0.3" x="221.5" y="368.85" text-anchor="end" font-size="9.8">4</text>
<path d="M235.8 471.6H383.7" stroke-width="1.3"/>
<path d="M236.4 471.6V474.2" stroke-width="1.1"/>
<text stroke-width="0.3" x="236.4" y="487.2" text-anchor="middle" font-size="9.8">0</text>
<path d="M242.51 471.6V474.2" stroke-width="1.1"/>
<path d="M248.62 471.6V474.2" stroke-width="1.1"/>
<text stroke-width="0.3" x="248.62" y="487.2" text-anchor="middle" font-size="9.8">1</text>
<path d="M260.85 471.6V474.2" stroke-width="1.1"/>
<text stroke-width="0.3" x="260.85" y="487.2" text-anchor="middle" font-size="9.8">2</text>
<path d="M273.07 471.6V474.2" stroke-width="1.1"/>
<text stroke-width="0.3" x="273.07" y="487.2" text-anchor="middle" font-size="9.8">3</text>
<path d="M285.3 471.6V474.2" stroke-width="1.1"/>
<text stroke-width="0.3" x="285.3" y="487.2" text-anchor="middle" font-size="9.8">4</text>
<path d="M309.75 471.6V474.2" stroke-width="1.1"/>
<text stroke-width="0.3" x="309.75" y="487.2" text-anchor="middle" font-size="9.8">6</text>
<path d="M334.2 471.6V474.2" stroke-width="1.1"/>
<text stroke-width="0.3" x="334.2" y="487.2" text-anchor="middle" font-size="9.8">8</text>
<path d="M383.1 471.6V474.2" stroke-width="1.1"/>
<text stroke-width="0.3" x="383.1" y="487.2" text-anchor="middle" font-size="9.8">12</text>
<path d="M236.4 466.3L242.51 463.9L248.62 463.9L260.85 466.3L273.07 466.3L285.3 466.3L309.75 466.4L334.2 466.4L383.1 466.4" fill="none" stroke-width="1.25"/>
<path d="M236.4 466.3L242.51 420.4L248.62 416.5L260.85 424.8L273.07 442.2L285.3 452L309.75 456.3L334.2 457.9L383.1 459.4" fill="none" stroke-width="1.25"/>
<path d="M236.4 466.3L242.51 409.6L248.62 392.4L260.85 396.3L273.07 401.7L285.3 404.6L309.75 421.9L334.2 427.8L383.1 447.1" fill="none" stroke-width="1.25"/>
<circle cx="236.4" cy="466.3" r="2.75" fill="#fff"/>
<circle cx="242.51" cy="463.9" r="2.75" fill="#fff"/>
<circle cx="248.62" cy="463.9" r="2.75" fill="#fff"/>
<circle cx="260.85" cy="466.3" r="2.75" fill="#fff"/>
<circle cx="273.07" cy="466.3" r="2.75" fill="#fff"/>
<circle cx="285.3" cy="466.3" r="2.75" fill="#fff"/>
<circle cx="309.75" cy="466.4" r="2.75" fill="#fff"/>
<circle cx="334.2" cy="466.4" r="2.75" fill="#fff"/>
<circle cx="383.1" cy="466.4" r="2.75" fill="#fff"/>
<path d="M248.62 416.5V412M247.32 412H249.93" stroke-width="0.8"/>
<path d="M273.07 442.2V437M271.77 437H274.38" stroke-width="0.8"/>
<path d="M285.3 452V447M284 447H286.6" stroke-width="0.8"/>
<path d="M309.75 456.3V451.5M308.45 451.5H311.05" stroke-width="0.8"/>
<path d="M334.2 457.9V453.5M332.9 453.5H335.5" stroke-width="0.8"/>
<path d="M236.4 463L239.2 468.5L233.6 468.5Z" fill="#fff"/>
<path d="M242.51 417.1L245.31 422.6L239.71 422.6Z" fill="#000"/>
<path d="M248.62 413.2L251.43 418.7L245.82 418.7Z" fill="#000"/>
<path d="M260.85 421.5L263.65 427L258.05 427Z" fill="#000"/>
<path d="M273.07 438.9L275.88 444.4L270.27 444.4Z" fill="#fff"/>
<path d="M285.3 448.7L288.1 454.2L282.5 454.2Z" fill="#fff"/>
<path d="M309.75 453L312.55 458.5L306.95 458.5Z" fill="#fff"/>
<path d="M334.2 454.6L337 460.1L331.4 460.1Z" fill="#fff"/>
<path d="M383.1 456.1L385.9 461.6L380.3 461.6Z" fill="#fff"/>
<path d="M242.51 409.6V399.7M241.21 399.7H243.81" stroke-width="0.8"/>
<path d="M260.85 396.3V391M259.55 391H262.15" stroke-width="0.8"/>
<path d="M273.07 401.7V396M271.77 396H274.38" stroke-width="0.8"/>
<path d="M285.3 404.6V398.5M284 398.5H286.6" stroke-width="0.8"/>
<path d="M309.75 421.9V415.4M308.45 415.4H311.05" stroke-width="0.8"/>
<path d="M334.2 427.8V420M332.9 420H335.5" stroke-width="0.8"/>
<path d="M383.1 447.1V439.4M381.8 439.4H384.4" stroke-width="0.8"/>
<path d="M236.4 462.7L240 466.3L236.4 469.9L232.8 466.3Z" fill="#fff"/>
<path d="M242.51 406L246.11 409.6L242.51 413.2L238.91 409.6Z" fill="#000"/>
<path d="M248.62 388.8L252.22 392.4L248.62 396L245.03 392.4Z" fill="#000"/>
<path d="M260.85 392.7L264.45 396.3L260.85 399.9L257.25 396.3Z" fill="#000"/>
<path d="M273.07 398.1L276.68 401.7L273.07 405.3L269.47 401.7Z" fill="#000"/>
<path d="M285.3 401L288.9 404.6L285.3 408.2L281.7 404.6Z" fill="#000"/>
<path d="M309.75 418.3L313.35 421.9L309.75 425.5L306.15 421.9Z" fill="#000"/>
<path d="M334.2 424.2L337.8 427.8L334.2 431.4L330.6 427.8Z" fill="#000"/>
<path d="M383.1 443.5L386.7 447.1L383.1 450.7L379.5 447.1Z" fill="#fff"/>
<path d="M422 365.7V466.4" stroke-width="1.3"/>
<path d="M419 466.4H422" stroke-width="1.2"/>
<text stroke-width="0.3" x="414.4" y="469.55" text-anchor="end" font-size="9.8">0</text>
<path d="M419 441.22H422" stroke-width="1.2"/>
<text stroke-width="0.3" x="414.4" y="444.37" text-anchor="end" font-size="9.8">1</text>
<path d="M419 416.05H422" stroke-width="1.2"/>
<text stroke-width="0.3" x="414.4" y="419.2" text-anchor="end" font-size="9.8">2</text>
<path d="M419 390.88H422" stroke-width="1.2"/>
<text stroke-width="0.3" x="414.4" y="394.02" text-anchor="end" font-size="9.8">3</text>
<path d="M419 365.7H422" stroke-width="1.2"/>
<text stroke-width="0.3" x="414.4" y="368.85" text-anchor="end" font-size="9.8">4</text>
<path d="M428.4 471.6H576.2" stroke-width="1.3"/>
<path d="M429 471.6V474.2" stroke-width="1.1"/>
<text stroke-width="0.3" x="429" y="487.2" text-anchor="middle" font-size="9.8">0</text>
<path d="M435.11 471.6V474.2" stroke-width="1.1"/>
<path d="M441.22 471.6V474.2" stroke-width="1.1"/>
<text stroke-width="0.3" x="441.22" y="487.2" text-anchor="middle" font-size="9.8">1</text>
<path d="M453.43 471.6V474.2" stroke-width="1.1"/>
<text stroke-width="0.3" x="453.43" y="487.2" text-anchor="middle" font-size="9.8">2</text>
<path d="M465.65 471.6V474.2" stroke-width="1.1"/>
<text stroke-width="0.3" x="465.65" y="487.2" text-anchor="middle" font-size="9.8">3</text>
<path d="M477.87 471.6V474.2" stroke-width="1.1"/>
<text stroke-width="0.3" x="477.87" y="487.2" text-anchor="middle" font-size="9.8">4</text>
<path d="M502.3 471.6V474.2" stroke-width="1.1"/>
<text stroke-width="0.3" x="502.3" y="487.2" text-anchor="middle" font-size="9.8">6</text>
<path d="M526.73 471.6V474.2" stroke-width="1.1"/>
<text stroke-width="0.3" x="526.73" y="487.2" text-anchor="middle" font-size="9.8">8</text>
<path d="M575.6 471.6V474.2" stroke-width="1.1"/>
<text stroke-width="0.3" x="575.6" y="487.2" text-anchor="middle" font-size="9.8">12</text>
<path d="M429 465.8L435.11 464.3L441.22 464.3L453.43 465.8L465.65 465.8L477.87 465.8L502.3 466L526.73 466L575.6 466" fill="none" stroke-width="1.25"/>
<path d="M429 465.8L435.11 444.6L441.22 442.5L453.43 458.1L465.65 460.2L477.87 462.2L502.3 466L526.73 466L575.6 466" fill="none" stroke-width="1.25"/>
<path d="M429 465.8L435.11 434.7L441.22 429.1L453.43 447.7L465.65 453.9L477.87 461.2L502.3 466L526.73 466L575.6 466" fill="none" stroke-width="1.25"/>
<path d="M429 465.8L435.11 406.3L441.22 378.7L453.43 392.4L465.65 418.1L477.87 435.9L502.3 458.1L526.73 456.5L575.6 466" fill="none" stroke-width="1.25"/>
<circle cx="429" cy="465.8" r="2.75" fill="#fff"/>
<circle cx="435.11" cy="464.3" r="2.75" fill="#fff"/>
<circle cx="441.22" cy="464.3" r="2.75" fill="#fff"/>
<circle cx="453.43" cy="465.8" r="2.75" fill="#fff"/>
<circle cx="465.65" cy="465.8" r="2.75" fill="#fff"/>
<circle cx="477.87" cy="465.8" r="2.75" fill="#fff"/>
<circle cx="502.3" cy="466" r="2.75" fill="#fff"/>
<circle cx="526.73" cy="466" r="2.75" fill="#fff"/>
<circle cx="575.6" cy="466" r="2.75" fill="#fff"/>
<rect x="426.3" y="463.1" width="5.4" height="5.4" fill="#fff"/>
<rect x="432.41" y="441.9" width="5.4" height="5.4" fill="#fff"/>
<rect x="438.52" y="439.8" width="5.4" height="5.4" fill="#fff"/>
<rect x="450.73" y="455.4" width="5.4" height="5.4" fill="#fff"/>
<rect x="462.95" y="457.5" width="5.4" height="5.4" fill="#fff"/>
<rect x="475.17" y="459.5" width="5.4" height="5.4" fill="#fff"/>
<rect x="499.6" y="463.3" width="5.4" height="5.4" fill="#fff"/>
<rect x="524.03" y="463.3" width="5.4" height="5.4" fill="#fff"/>
<rect x="572.9" y="463.3" width="5.4" height="5.4" fill="#fff"/>
<path d="M441.22 429.1V423.9M439.92 423.9H442.52" stroke-width="0.8"/>
<path d="M453.43 447.7V443M452.13 443H454.73" stroke-width="0.8"/>
<path d="M465.65 453.9V449.5M464.35 449.5H466.95" stroke-width="0.8"/>
<path d="M429 462.5L431.8 468L426.2 468Z" fill="#fff"/>
<path d="M435.11 431.4L437.91 436.9L432.31 436.9Z" fill="#fff"/>
<path d="M441.22 425.8L444.02 431.3L438.42 431.3Z" fill="#000"/>
<path d="M453.43 444.4L456.23 449.9L450.63 449.9Z" fill="#fff"/>
<path d="M465.65 450.6L468.45 456.1L462.85 456.1Z" fill="#fff"/>
<path d="M477.87 457.9L480.67 463.4L475.07 463.4Z" fill="#fff"/>
<path d="M502.3 462.7L505.1 468.2L499.5 468.2Z" fill="#fff"/>
<path d="M526.73 462.7L529.53 468.2L523.93 468.2Z" fill="#fff"/>
<path d="M575.6 462.7L578.4 468.2L572.8 468.2Z" fill="#fff"/>
<path d="M435.11 406.3V397M433.81 397H436.41" stroke-width="0.8"/>
<path d="M441.22 378.7V373.1M439.92 373.1H442.52" stroke-width="0.8"/>
<path d="M453.43 392.4V384.9M452.13 384.9H454.73" stroke-width="0.8"/>
<path d="M465.65 418.1V408.3M464.35 408.3H466.95" stroke-width="0.8"/>
<path d="M477.87 435.9V425.5M476.57 425.5H479.17" stroke-width="0.8"/>
<path d="M526.73 456.5V452M525.43 452H528.03" stroke-width="0.8"/>
<path d="M429 462.2L432.6 465.8L429 469.4L425.4 465.8Z" fill="#fff"/>
<path d="M435.11 402.7L438.71 406.3L435.11 409.9L431.51 406.3Z" fill="#000"/>
<path d="M441.22 375.1L444.82 378.7L441.22 382.3L437.62 378.7Z" fill="#000"/>
<path d="M453.43 388.8L457.03 392.4L453.43 396L449.83 392.4Z" fill="#000"/>
<path d="M465.65 414.5L469.25 418.1L465.65 421.7L462.05 418.1Z" fill="#000"/>
<path d="M477.87 432.3L481.47 435.9L477.87 439.5L474.27 435.9Z" fill="#fff"/>
<path d="M502.3 454.5L505.9 458.1L502.3 461.7L498.7 458.1Z" fill="#fff"/>
<path d="M526.73 452.9L530.33 456.5L526.73 460.1L523.13 456.5Z" fill="#fff"/>
<path d="M575.6 462.4L579.2 466L575.6 469.6L572 466Z" fill="#fff"/>
<text x="36.0" y="71.4" font-size="12.2" font-weight="bold" stroke-width="0.1">Circular Lights</text>
<text x="35.8" y="215.9" font-size="12.2" font-weight="bold" stroke-width="0.1">DSST</text>
<text x="35.0" y="359.6" font-size="12.2" font-weight="bold" stroke-width="0.1">Drug Strength</text>
<text stroke-width="0.3" transform="translate(8.9 128.4) rotate(-90)" x="0" y="0" text-anchor="middle" textLength="105.5" lengthAdjust="spacingAndGlyphs">Number Correct/60 sec</text>
<text stroke-width="0.3" transform="translate(8.9 272.1) rotate(-90)" x="0" y="0" text-anchor="middle" textLength="105.5" lengthAdjust="spacingAndGlyphs">Number Correct/90 sec</text>
<text stroke-width="0.3" transform="translate(8.9 415.9) rotate(-90)" x="0" y="0" text-anchor="middle" textLength="73.5" lengthAdjust="spacingAndGlyphs">Observer Rating</text>
<text stroke-width="0.3" x="112.0" y="503.6" text-anchor="middle" textLength="128.5" lengthAdjust="spacingAndGlyphs">Time After Administration (h)</text>
<text stroke-width="0.3" x="306.0" y="503.6" text-anchor="middle" textLength="128.5" lengthAdjust="spacingAndGlyphs">Time After Administration (h)</text>
<text stroke-width="0.3" x="500.0" y="503.6" text-anchor="middle" textLength="128.5" lengthAdjust="spacingAndGlyphs">Time After Administration (h)</text>
<rect x="41.2" y="1.0" width="146.3" height="45.8" fill="#fff" stroke-width="1.3"/>
<path d="M48 13.9H71.4" stroke-width="1.25"/>
<circle cx="59.6" cy="13.9" r="2.75" fill="#fff"/>
<text stroke-width="0.3" x="77" y="17.4">placebo</text>
<path d="M48 26.8H71.4" stroke-width="1.25"/>
<path d="M59.6 23.5L62.4 29L56.8 29Z" fill="#fff"/>
<text stroke-width="0.3" x="77" y="30.3">0.5 mg/70 kg triazolam</text>
<path d="M48 39.4H71.4" stroke-width="1.25"/>
<path d="M59.6 35.8L63.2 39.4L59.6 43L56 39.4Z" fill="#fff"/>
<text stroke-width="0.3" x="77" y="42.9">1 mg/70 kg triazolam</text>
<rect x="225.7" y="1.0" width="164.7" height="45.8" fill="#fff" stroke-width="1.3"/>
<path d="M232.3 13.9H255.8" stroke-width="1.25"/>
<circle cx="244.2" cy="13.9" r="2.75" fill="#fff"/>
<text stroke-width="0.3" x="261.7" y="17.4">placebo</text>
<path d="M232.3 26.8H255.8" stroke-width="1.25"/>
<path d="M244.2 23.5L247 29L241.4 29Z" fill="#fff"/>
<text stroke-width="0.3" x="261.7" y="30.3">200 mg/70 kg pentobarbital</text>
<path d="M232.3 39.4H255.8" stroke-width="1.25"/>
<path d="M244.2 35.8L247.8 39.4L244.2 43L240.6 39.4Z" fill="#fff"/>
<text stroke-width="0.3" x="261.7" y="42.9">400 mg/70 kg pentobarbital</text>
<rect x="447.4" y="1.0" width="109.6" height="58.4" fill="#fff" stroke-width="1.3"/>
<path d="M454.1 13.9H477.5" stroke-width="1.25"/>
<circle cx="466.1" cy="13.9" r="2.75" fill="#fff"/>
<text stroke-width="0.3" x="483.7" y="17.4">placebo</text>
<path d="M454.1 26.7H477.5" stroke-width="1.25"/>
<rect x="463.4" y="24" width="5.4" height="5.4" fill="#fff"/>
<text stroke-width="0.3" x="483.7" y="30.2">2 g/70 kg GHB</text>
<path d="M454.1 39.2H477.5" stroke-width="1.25"/>
<path d="M466.1 35.9L468.9 41.4L463.3 41.4Z" fill="#fff"/>
<text stroke-width="0.3" x="483.7" y="42.7">4 g/70 kg GHB</text>
<path d="M454.1 52H477.5" stroke-width="1.25"/>
<path d="M466.1 48.4L469.7 52L466.1 55.6L462.5 52Z" fill="#fff"/>
<text stroke-width="0.3" x="483.7" y="55.5">8 g/70 kg GHB</text>
</g>
</svg>
</body></html>
